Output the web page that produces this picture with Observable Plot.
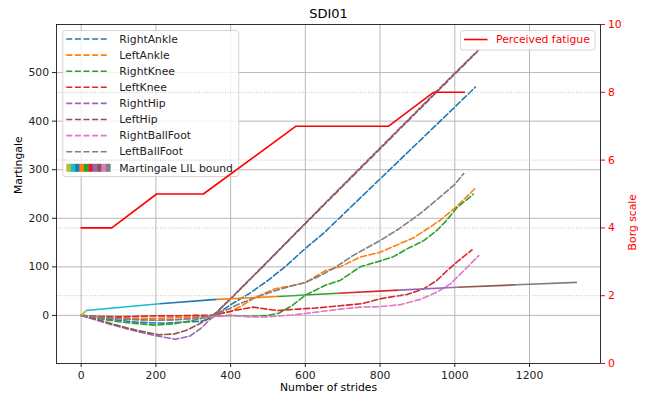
<!DOCTYPE html>
<html>
<head>
<meta charset="utf-8">
<script src="https://cdn.jsdelivr.net/npm/d3@7"></script>
<script src="https://cdn.jsdelivr.net/npm/@observablehq/plot@0.6"></script>
<style>
  html, body { margin: 0; padding: 0; background: white; }
  #chart { width: 646px; height: 398px; }
</style>
</head>
<body>
<div id="chart"></div>
<script>
// ---- data ----
const title = "SDI01";
const xLabel = "Number of strides";
const yLabel = "Martingale";
const y2Label = "Borg scale";

const xTicks = [0, 200, 400, 600, 800, 1000, 1200];
const yTicks = [0, 100, 200, 300, 400, 500];
const borgTicks = [0, 2, 4, 6, 8, 10];
const borgGrid = [2, 4, 6, 8];

const seriesNames = ["RightAnkle", "LeftAnkle", "RightKnee", "LeftKnee", "RightHip", "LeftHip", "RightBallFoot", "LeftBallFoot"];
const seriesColors = ["#1f77b4", "#ff7f0e", "#2ca02c", "#d62728", "#9467bd", "#8c564b", "#e377c2", "#7f7f7f"];

const rightAnkle = [[0,0],[50,-5],[100,-10],[150,-14],[217,-16],[270,-14],[320,-12],[350,-5],[377,10],[400,22],[450,45],[500,72],[550,103],[600,138],[650,170],[700,207],[800,281],[900,355],[1000,429],[1055,470]];
const leftAnkle = [[0,0],[50,-3],[100,-5],[150,-6],[200,-6],[250,-5],[300,-3],[350,0],[400,8],[430,20],[466,37],[519,55],[564,61],[601,68],[653,92],[693,100],[747,120],[800,130],[836,142],[890,160],[934,182],[961,196],[1006,225],[1055,262]];
const rightKnee = [[0,0],[50,-7],[100,-13],[150,-17],[200,-20],[250,-17],[300,-10],[350,-2],[400,0],[450,-2],[500,0],[530,5],[564,20],[601,42],[653,62],[693,72],[747,100],[800,112],[836,121],[872,137],[917,154],[952,175],[975,193],[1006,222],[1041,244],[1050,250]];
const leftKnee = [[0,0],[50,-2],[100,-3],[150,-2],[200,-1],[250,-1],[300,0],[350,0],[380,5],[408,10],[461,17],[524,10],[580,13],[640,16],[693,20],[750,24],[800,34],[836,39],[872,43],[917,55],[952,72],[979,92],[1006,110],[1046,135]];
const rightHip = [[0,0],[50,-12],[100,-23],[150,-33],[200,-42],[252,-49],[290,-43],[320,-27],[340,-12],[360,3],[386,24],[404,38],[500,112],[600,190],[700,268],[800,345],[900,422],[1000,499],[1064,547]];
const leftHip = [[0,0],[50,-10],[100,-21],[150,-31],[208,-40],[250,-38],[280,-31],[310,-20],[340,-7],[360,5],[386,24],[404,37],[500,111],[600,189],[700,266],[800,343],[900,420],[1000,497],[1060,543]];
const rightBallFoot = [[0,0],[50,-4],[100,-7],[150,-9],[200,-10],[250,-9],[300,-7],[350,-3],[400,0],[450,-3],[500,-3],[564,1],[600,4],[653,9],[693,13],[747,17],[800,18],[854,22],[908,33],[952,48],[988,65],[1024,92],[1064,123]];
const leftBallFoot = [[0,0],[50,-4],[100,-7],[150,-9],[200,-10],[250,-9],[300,-6],[350,0],[400,15],[421,23],[470,38],[519,51],[560,60],[601,68],[640,82],[680,99],[729,124],[800,154],[850,178],[908,210],[961,244],[1000,270],[1024,292]];
const seriesData = [rightAnkle, leftAnkle, rightKnee, leftKnee, rightHip, leftHip, rightBallFoot, leftBallFoot];

const lilLabel = "Martingale LIL bound";
const lilStrides = [0, 13, 210, 363, 525, 688, 849, 1007, 1165, 1327];
const lilValues = [0, 10, 24, 33, 39, 45.5, 52, 58, 63, 68];
const lilColors = ["#bcbd22", "#17becf", "#1f77b4", "#ff7f0e", "#2ca02c", "#d62728", "#9467bd", "#8c564b", "#7f7f7f"];
const lilPatchColors = ["#bcbd22", "#17becf", "#1f77b4", "#ff7f0e", "#2ca02c", "#d62728", "#9467bd", "#8c564b", "#e377c2", "#7f7f7f"];

const fatigueLabel = "Perceived fatigue";
const fatigueStrides = [0, 82, 202, 327, 575, 823, 943, 1026];
const fatigueBorg = [4, 4, 5, 5, 7, 7, 8, 8];

// ---- scales ----
const xDomain = [-66, 1390];
const yDomain = [-99, 599];
const borgDomain = [0, 10];
const toY = b => yDomain[0] + (b - borgDomain[0]) / (borgDomain[1] - borgDomain[0]) * (yDomain[1] - yDomain[0]);
const fromY = v => borgDomain[0] + (v - yDomain[0]) / (yDomain[1] - yDomain[0]) * (borgDomain[1] - borgDomain[0]);

const FONT = "DejaVu Sans";
const FS = 10.8;

const lilSegments = lilStrides.slice(1).map((s, i) => ({
  x1: lilStrides[i], y1: lilValues[i], x2: s, y2: lilValues[i + 1], c: lilColors[i]
}));
const fatigue = fatigueStrides.map((s, i) => ({s, b: fatigueBorg[i]}));

const DASH = "6,2.6";

function legendMain(index, scales, values, dims) {
  const g = d3.create("svg:g").attr("font-family", FONT).attr("font-size", FS).attr("text-anchor", "start");
  const x0 = dims.marginLeft + 6.3, y0 = dims.marginTop + 6;
  const rowH = 16.1, firstRow = y0 + 9;
  g.append("rect").attr("x", x0 + 0.5).attr("y", y0 + 0.5).attr("width", 176).attr("height", 146)
    .attr("rx", 2.5).attr("fill", "white").attr("fill-opacity", 0.8)
    .attr("stroke", "#cccccc").attr("stroke-width", 0.8);
  seriesNames.forEach((name, i) => {
    const y = firstRow + i * rowH;
    g.append("line").attr("x1", x0 + 4).attr("x2", x0 + 46).attr("y1", y).attr("y2", y)
      .attr("stroke", seriesColors[i]).attr("stroke-width", 1.6).attr("stroke-dasharray", DASH);
    g.append("text").attr("x", x0 + 57).attr("y", y).attr("dy", "0.35em").attr("fill", "#222")
      .attr("text-anchor", "start").text(name);
  });
  const yl = firstRow + seriesNames.length * rowH;
  const pw = 44 / lilPatchColors.length;
  lilPatchColors.forEach((c, i) => {
    g.append("rect").attr("x", x0 + 4 + i * pw).attr("y", yl - 4).attr("width", pw + 0.3).attr("height", 8).attr("fill", c);
  });
  g.append("text").attr("x", x0 + 57).attr("y", yl).attr("dy", "0.35em").attr("fill", "#222")
    .attr("text-anchor", "start").text(lilLabel);
  return g.node();
}

function legendFatigue(index, scales, values, dims) {
  const g = d3.create("svg:g").attr("font-family", FONT).attr("font-size", FS).attr("text-anchor", "start");
  const xr = dims.width - dims.marginRight - 5;
  const w = 134.5, x0 = xr - w, y0 = dims.marginTop + 6;
  g.append("rect").attr("x", x0).attr("y", y0 + 0.5).attr("width", w).attr("height", 19.5)
    .attr("rx", 2.5).attr("fill", "white").attr("fill-opacity", 0.8)
    .attr("stroke", "#cccccc").attr("stroke-width", 0.8);
  g.append("line").attr("x1", x0 + 3.5).attr("x2", x0 + 27).attr("y1", y0 + 9.5).attr("y2", y0 + 9.5)
    .attr("stroke", "red").attr("stroke-width", 1.6);
  g.append("text").attr("x", x0 + 35.5).attr("y", y0 + 9.5).attr("dy", "0.35em").attr("fill", "red")
    .attr("text-anchor", "start").text(fatigueLabel);
  return g.node();
}

const chart = Plot.plot({
  width: 646,
  height: 398,
  marginLeft: 56,
  marginRight: 46,
  marginTop: 24,
  marginBottom: 35,
  style: {fontFamily: FONT, fontSize: FS + "px", background: "white", color: "#222"},
  x: {domain: xDomain},
  y: {domain: yDomain},
  marks: [
    Plot.gridX(xTicks, {stroke: "#b0b0b0", strokeOpacity: 1, strokeWidth: 0.9}),
    Plot.gridY(yTicks, {stroke: "#b0b0b0", strokeOpacity: 1, strokeWidth: 0.9}),
    ...seriesData.map((data, i) => Plot.line(data, {
      x: d => d[0], y: d => d[1], stroke: seriesColors[i],
      strokeWidth: 1.6, strokeDasharray: DASH
    })),
    ...lilSegments.map(seg => Plot.link([seg], {
      x1: "x1", y1: "y1", x2: "x2", y2: "y2", stroke: seg.c, strokeWidth: 1.6
    })),
    legendMain,
    Plot.ruleY(borgGrid.map(toY), {stroke: "#b0b0b0", strokeWidth: 0.8, strokeDasharray: "1,1.6"}),
    Plot.line(fatigue, {x: "s", y: d => toY(d.b), stroke: "red", strokeWidth: 1.6}),
    legendFatigue,
    Plot.frame({stroke: "black", strokeWidth: 0.8}),
    Plot.axisX({ticks: xTicks, tickSize: 4, tickPadding: 3.5, label: null, tickFormat: d => String(d)}),
    Plot.axisY({ticks: yTicks, tickSize: 4, tickPadding: 3.5, label: null, tickFormat: d => String(d)}),
    Plot.axisY({anchor: "right", ticks: borgTicks.map(toY), tickSize: 4, tickPadding: 3.5, label: null,
      stroke: "red", fill: "red", tickFormat: v => String(Math.round(fromY(v)))}),
    Plot.text([title], {frameAnchor: "top", lineAnchor: "bottom", dy: -7, fontSize: 13, fill: "black"}),
    Plot.text([xLabel], {frameAnchor: "bottom", dy: 27.5, fill: "black"}),
    Plot.text([yLabel], {frameAnchor: "left", dx: -38, rotate: -90, fill: "black"}),
    Plot.text([y2Label], {frameAnchor: "right", dx: 32, rotate: -90, fill: "red"})
  ]
});
document.getElementById("chart").appendChild(chart);
</script>
</body>
</html>
